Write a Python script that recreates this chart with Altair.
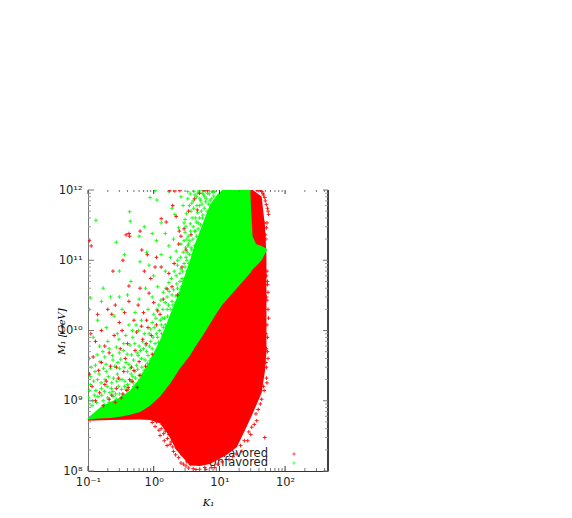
import altair as alt
import pandas as pd

# Axis ticks
x_major = [0.1, 1, 10, 100]
x_labels = ["10⁻¹", "10⁰", "10¹", "10²"]
y_major = [1e8, 1e9, 1e10, 1e11, 1e12]
y_labels = ["10⁸", "10⁹", "10¹⁰", "10¹¹", "10¹²"]
x_minor = [0.2, 0.3, 0.4, 0.5, 0.6, 0.7, 0.8, 0.9, 2, 3, 4, 5, 6, 7, 8, 9,
           20, 30, 40, 50, 60, 70, 80, 90, 200, 300, 400]
y_minor = [m * d for d in (1e8, 1e9, 1e10, 1e11) for m in (2, 3, 4, 5, 6, 7, 8, 9)]

# Solid envelope of the favored cloud
red_low_k = [0.1, 0.216, 0.62, 0.88, 1.25, 1.7, 2.2, 3, 3.57, 5.06, 7.2, 13, 18.5, 24.5, 32.4, 44, 49.5, 52]
red_low_m = [5.2e8, 5.3e8, 5.4e8, 5.3e8, 4.8e8, 3.2e8, 2e8, 1.44e8, 1.2e8, 1.18e8, 1.26e8, 1.7e8, 2.2e8,
             3.8e8, 6.7e8, 1.3e9, 2.7e9, 5e9]
red_top_m = [5.6e8, 6e8, 7.5e8, 9e8, 1.3e9, 2e9, 3e9, 4.5e9, 5.5e9, 1e10, 1.6e10, 1e12, 1e12,
             1e12, 1e12, 8e11, 3e11, 1.2e11]

# Solid envelope of the unfavored cloud
green_k = [0.1, 0.152, 0.216, 0.307, 0.436, 0.62, 0.88, 1.25, 1.77, 2.52, 3.57, 4.2, 5.5, 7.2, 9.2, 11,
           29.5, 30.5, 32, 36, 44, 53]
green_low = [5.4e8, 5.6e8, 5.7e8, 5.9e8, 6.3e8, 6.9e8, 8.5e8, 1.15e9, 1.75e9, 2.9e9, 4.4e9, 5.7e9,
             8.3e9, 1.25e10, 1.8e10, 2.3e10, 6.6e10, 6.9e10, 7.4e10, 8.2e10, 1e11, 1.4e11]
green_high = [5.7e8, 8e8, 9.6e8, 1.1e9, 1.4e9, 2.1e9, 3.8e9, 7.3e9, 1.66e10, 3.8e10, 1e11, 1.66e11,
              3.2e11, 6.2e11, 8.5e11, 1e12, 1e12, 5e11, 2.2e11, 1.7e11, 1.6e11, 1.45e11]

# Individually readable unfavored markers (K1, M1)
green_pts = [
    (0.132, 3.7e11), (0.43, 4.9e11), (0.44, 3.6e11), (1.12, 7.2e11), (0.88, 7.8e11), (1.05, 9.8e11), (1.3, 3.4e11),
    (1.7, 9.5e11), (1.9, 5.5e11), (2.1, 4.5e11), (2.6, 8e11), (2.8, 6e11), (3, 3.8e11), (3.3, 9.5e11), (2.4, 2.9e11),
    (0.36, 1.2e11), (0.27, 1.8e11), (0.3, 7e10), (0.6, 2.2e11), (0.72, 3e11), (0.95, 2.4e11), (0.78, 1.3e11),
    (1.1, 1.9e11), (1.5, 2.4e11), (1.7, 1.6e11), (2, 2e11), (0.62, 9.5e10), (0.85, 8.5e10), (1, 6e10), (1.3, 1.2e11),
    (1.5, 7e10), (1.8, 1.1e11), (2.2, 1.35e11), (0.45, 5e10), (0.17, 4e10), (0.16, 2.6e10), (0.22, 3e10), (0.3, 3e10),
    (0.4, 3.2e10), (0.6, 2.8e10), (0.75, 4e10), (0.95, 3e10), (1.15, 4.2e10), (1.4, 3.5e10), (1.7, 4.8e10),
    (0.11, 2.9e10), (0.105, 2e10), (0.14, 1.4e10), (0.19, 1.1e10), (0.25, 1.6e10), (0.33, 2e10), (0.42, 1.2e10),
    (0.52, 1.8e10), (0.65, 1.4e10), (0.82, 2e10), (1, 1.7e10), (1.2, 2.3e10), (0.28, 9e9), (0.12, 8e9), (0.15, 6e9),
    (0.2, 7e9), (0.35, 6.5e9), (0.48, 8e9), (0.6, 6e9), (0.72, 9e9), (0.9, 7e9), (0.105, 4e9), (0.13, 3.2e9),
    (0.18, 4.2e9), (0.24, 3.8e9), (0.3, 4.8e9), (0.38, 3.5e9), (0.46, 4.5e9), (0.55, 3.2e9), (0.65, 4e9), (0.78, 5e9),
    (0.11, 2.2e9), (0.14, 2e9), (0.19, 2.6e9), (0.23, 1.8e9), (0.28, 2.4e9), (0.33, 2e9), (0.4, 2.6e9), (0.48, 2.2e9),
    (0.105, 1.4e9), (0.125, 1.2e9), (0.16, 1.5e9), (0.2, 1.1e9), (0.24, 1.35e9), (0.29, 1.6e9), (0.1, 9e8),
    (0.115, 8.5e8), (0.135, 9.5e8), (0.17, 1e9), (1.5, 1.2e10), (2.2, 2.5e10), (2.8, 5e10), (3.2, 7e10), (3.8, 1.4e11),
    (4.5, 2.2e11), (5.5, 4e11), (6.5, 5e11), (7.5, 7.5e11), (8.5, 9.5e11), (4, 3e11), (4.3, 4e11), (5, 6e11),
    (5.5, 9e11), (6, 8e11), (3.7, 5e11), (4, 7e11), (4.5, 8e11), (5.5, 1e12), (2.5, 6.5e10), (2.9, 9e10), (3.4, 1.7e11),
    (1.9, 3.2e10), (2.3, 4e10), (2.7, 5.5e10), (3.1, 1.1e11), (1.3, 1.2e10), (1.6, 2e10), (1.9, 2.6e10), (2.2, 6e10),
    (1.1, 9e9), (1.35, 1.5e10), (1.6, 3e10), (0.95, 5.5e9), (1.15, 8e9), (1.4, 1.1e10), (0.8, 3e9), (1, 3.8e9),
    (1.2, 5e9), (0.6, 2.3e9), (0.8, 3.4e9), (0.95, 1.3e10), (0.55, 1.7e9), (0.68, 2.4e9), (0.85, 9e9), (0.5, 1.6e9),
    (0.62, 2e9), (0.38, 1.45e9), (0.45, 1.9e9), (0.3, 1.25e9), (0.36, 1.6e9), (0.24, 1.15e9), (0.3, 2.9e9),
    (3.6, 3.3e11), (4.2, 2.6e11), (4.8, 3.4e11), (5.2, 7e11), (6.2, 6.8e11), (7, 8.8e11), (8, 9.2e11), (3.2, 2e11),
    (3.5, 6e11), (4.1, 9.6e11), (4.7, 9e11), (3.9, 1.2e11), (3, 2.5e11), (3.3, 1.6e11), (2.6, 7.5e10), (2.9, 1.9e11),
    (2.3, 8.5e10), (2.6, 3.8e10),
    # dense band next to the solid region
    (0.52, 2.6e9), (0.58, 4.4e9), (0.63, 5.2e9), (0.68, 7e9), (0.74, 3.8e9), (0.76, 6.2e9), (0.82, 4.4e9), (0.86, 6e9),
    (0.9, 1.05e10), (0.93, 4e9), (0.98, 8e9), (1.02, 1.1e10), (1.05, 6.5e9), (1.08, 1.5e10), (1.12, 2e10), (1.18, 6.8e9),
    (1.22, 1e10), (1.26, 1.4e10), (1.28, 2.7e10), (1.32, 9e9), (1.38, 2e10), (1.42, 7.5e9), (1.46, 1.5e10), (1.5, 2.5e10),
    (1.54, 4e10), (1.58, 1.1e10), (1.62, 1.6e10), (1.68, 2.3e10), (1.72, 3.6e10), (1.78, 1.45e10), (1.82, 2e10),
    (1.86, 5.5e10), (1.92, 1.7e10), (1.96, 2.3e10), (2, 3.8e10), (2.05, 7e10), (2.12, 2.1e10), (2.18, 3.1e10),
    (2.25, 4.6e10), (2.32, 1e11), (2.38, 2.7e10), (2.45, 3.4e10), (2.5, 5e10), (2.55, 1.1e11), (2.6, 1.7e11),
    (2.68, 4.2e10), (2.75, 7e10), (2.82, 1.3e11), (2.9, 3.4e11), (2.95, 5.5e10), (3, 8e10), (3.05, 1.5e11),
    (3.1, 3e11), (3.15, 4.6e11), (3.2, 1e11), (3.25, 1.3e11), (3.3, 7.5e11), (3.35, 2.2e11), (3.42, 9e10), (3.5, 1.2e11),
    (3.55, 1.9e11), (3.6, 8.8e11), (3.65, 2.6e11), (3.72, 1.5e11), (3.8, 6.5e11), (3.85, 4e11), (3.95, 2e11),
    (4.05, 5.5e11), (4.15, 1.6e11), (4.25, 8.5e11), (4.35, 2.6e11), (4.45, 3.5e11), (4.55, 6e11), (4.65, 4.8e11),
    (4.75, 2.8e11), (4.85, 9.7e11), (4.95, 4e11), (5.05, 7.5e11), (5.15, 3.2e11), (5.3, 5e11), (5.45, 6.3e11),
    (5.6, 4.4e11), (5.75, 8.5e11), (5.9, 5.5e11), (6.1, 9.7e11), (6.3, 7.5e11), (6.6, 9e11), (6.8, 6.3e11), (7.2, 7e11),
    (7.7, 9.6e11), (8.2, 8.2e11), (0.34, 1.2e9), (0.41, 1.45e9), (0.44, 2.9e9), (0.49, 1.8e9), (0.53, 2.1e9), (0.57, 2.8e9),
    (0.66, 3e9), (0.7, 5.5e9), (0.72, 2.7e9), (0.88, 3.7e9), (0.4, 1.7e9), (0.27, 1.05e9), (0.21, 9.5e8), (0.18, 8.8e8),
    # lower-left scatter
    (0.102, 1.1e9), (0.108, 1.7e9), (0.112, 3e9), (0.118, 1e9), (0.122, 1.9e9), (0.128, 2.6e9), (0.132, 1.4e9),
    (0.138, 4.5e9), (0.142, 1.15e9), (0.148, 2.4e9), (0.152, 3.6e9), (0.158, 1.8e9), (0.162, 1.2e9), (0.168, 5e9),
    (0.172, 2.9e9), (0.178, 1.35e9), (0.182, 2e9), (0.188, 3.3e9), (0.195, 1.6e9), (0.205, 2.2e9), (0.21, 5.5e9),
    (0.215, 1.3e9), (0.22, 2.9e9), (0.228, 1.5e9), (0.235, 4.4e9), (0.245, 2.1e9), (0.255, 3.1e9), (0.262, 1.25e9),
    (0.27, 5.8e9), (0.275, 1.9e9), (0.285, 3.5e9), (0.295, 7.5e9), (0.305, 2e9), (0.315, 3.9e9), (0.325, 1.45e9),
    (0.345, 5.2e9), (0.355, 3e9), (0.365, 1.9e9), (0.375, 8.5e9), (0.395, 4.6e9), (0.42, 3.3e9), (0.435, 6.2e9),
    (0.455, 2.4e9), (0.475, 1e10), (0.495, 3.8e9), (0.515, 6.5e9), (0.54, 1.2e10), (0.56, 4.8e9), (0.59, 1e10),
]

# Individually readable favored markers, drawn above the unfavored cloud (K1, M1)
red_pts = [
    (0.105, 1.9e11), (0.112, 1.6e11), (0.38, 2.3e11), (0.42, 2.4e11), (0.43, 2.2e11), (0.62, 2.6e11), (0.66, 1.4e11),
    (0.8, 1.2e11), (1.1, 1.1e11), (0.72, 7e10), (0.9, 5.5e10), (1.05, 8e10), (0.62, 4e10), (0.24, 7e10), (0.34, 1e11),
    (0.42, 4.3e10), (1.3, 3.9e11), (1.55, 3.5e11), (1.3, 8e10), (1.95, 6e11), (2.2, 4.2e11), (2.45, 2.6e11),
    (2.1, 9.7e11), (1.75, 9.8e11), (2.5, 9.8e11), (0.26, 2.3e10), (0.23, 1.7e10), (0.14, 1.7e10), (0.2, 2e10),
    (0.16, 1e10), (0.3, 1.3e10), (0.36, 1.8e10), (0.42, 2.6e10), (0.5, 1.4e10), (0.58, 2.3e10), (0.7, 1.8e10),
    (0.85, 3.4e10), (1, 2.5e10), (1.15, 1.9e10), (1.4, 2.8e10), (0.11, 9e9), (0.13, 7e9), (0.18, 6e9), (0.25, 8.5e9),
    (0.33, 1e10), (0.4, 6.5e9), (0.55, 9.5e9), (0.68, 7.5e9), (0.82, 1.1e10), (1.1, 1.2e10), (0.12, 4.2e9),
    (0.16, 3.5e9), (0.21, 4.8e9), (0.27, 3e9), (0.31, 5.5e9), (0.37, 4e9), (0.46, 3e9), (0.52, 5.2e9), (0.6, 3.6e9),
    (0.77, 6.5e9), (0.95, 4.6e9), (0.105, 2.4e9), (0.145, 2.7e9), (0.19, 1.9e9), (0.22, 3.1e9), (0.29, 2.1e9),
    (0.35, 2.6e9), (0.43, 2e9), (0.5, 2.7e9), (0.62, 2.3e9), (0.75, 3.1e9), (0.115, 1.6e9), (0.15, 1.3e9), (0.18, 1.7e9),
    (0.23, 1.2e9), (0.27, 1.5e9), (0.32, 1.1e9), (0.39, 1.4e9), (0.47, 1.9e9), (0.56, 1.55e9), (0.13, 1e9),
    (0.17, 8.5e8), (0.21, 1.05e9), (0.26, 9.5e8), (0.34, 1.25e9), (0.41, 1.55e9), (1.7, 6.5e10), (1.9, 4.2e10),
    (2.3, 3.2e10), (2.7, 8e10), (3.1, 1.4e11), (2.4, 1.7e11), (2.9, 2.8e11), (3.4, 5e11), (4.2, 7.5e11), (5, 9e11),
    (5.8, 9.9e11), (6.6, 9.9e11), (0.78, 1.4e10), (1.25, 1.7e10), (1.6, 3.9e10), (2.05, 9e10), (2.6, 2.2e11), (3.7, 2.3e11),
    (4.6, 5.2e11), (0.92, 8.5e9), (0.65, 1.15e10),
]

# Fringe of the favored cloud, drawn beneath the unfavored cloud (K1, M1)
edge_pts = [
    (1.05, 4.3e8), (1.2, 3.8e8), (1.35, 4.6e8), (1.55, 4.2e8), (1.25, 3.2e8), (1.45, 2.7e8), (1.7, 3.3e8), (1.9, 3.9e8),
    (1.6, 2.3e8), (1.85, 2.6e8), (2.1, 2.9e8), (2.4, 3.5e8), (2, 1.9e8), (2.25, 2.1e8), (2.7, 1.7e8), (2.9, 2.3e8),
    (3.2, 1.35e8), (3.6, 1.25e8), (4.4, 1.05e8), (6.2, 1.05e8), (8.5, 1.12e8), (16, 1.6e8), (22, 1.9e8), (27, 2.7e8),
    (30, 3.3e8), (34, 4.6e8), (37, 5.2e8), (42, 9e8), (48, 1.4e9), (52, 2.1e9), (54, 5e9), (53, 1.2e10), (55, 2e10),
    (52, 3e10), (54, 5e10), (53, 7e10), (51, 9e9), (50, 2.3e11), (48, 3.4e11), (56, 4.5e11), (54, 5.5e11), (50, 7e11),
    (47, 8.5e11), (52, 3e9), (44, 9.5e11), (40, 9.8e11), (39, 9.9e11), (49, 3e8), (53, 1.8e9),
    (0.95, 4.9e8), (1.1, 5e8), (1.3, 4e8), (1.42, 3.4e8), (1.5, 3.7e8), (1.62, 2.9e8), (1.78, 2.4e8), (1.95, 2.2e8),
    (2.15, 1.7e8), (2.4, 1.55e8), (2.6, 1.3e8), (2.85, 1.25e8), (3.1, 1.18e8), (3.4, 1.1e8), (4, 1.08e8), (5, 1.06e8),
    (6, 1.12e8), (7.5, 1.12e8), (9.5, 1.25e8), (11, 1.35e8), (14, 1.45e8), (18, 1.75e8), (21, 2.3e8), (24, 2.7e8),
    (28, 3.6e8), (31, 4.2e8), (36, 6.5e8), (39, 7.5e8), (44, 1.05e9), (47, 1.6e9), (51, 3.5e9), (55, 4e9), (52, 5.5e9),
    (54, 8e9), (56, 1.5e10), (53, 2.7e10), (55, 3.5e10), (54, 4.5e10), (52, 6e10), (53, 3.4e11), (52, 2.9e11), (51, 2e11),
    (55, 5e11), (52, 6.2e11), (49, 7.8e11), (46, 9e11), (43, 1e12), (37, 1e12),
]

legend_names = ["Favored", "Unfavored"]
legend_colors = ["#ff0000", "#00ff00"]

K_DOMAIN = [0.1, 450]
M_DOMAIN = [1e8, 1e12]


def label_expr(values, labels):
    expr = f"'{labels[-1]}'"
    for v, lab in reversed(list(zip(values[:-1], labels[:-1]))):
        expr = f"datum.value <= {v * 1.5} ? '{lab}' : {expr}"
    return expr


xs = alt.Scale(type="log", domain=K_DOMAIN, nice=False)
ys = alt.Scale(type="log", domain=M_DOMAIN, nice=False)
plus = "M-1,0L1,0M0,-1L0,1"

x_axis = alt.Axis(values=x_major, labelExpr=label_expr(x_major, x_labels), ticks=False, grid=False,
                  domainColor="#333333", title="K₁", titleFont="DejaVu Serif", titleFontStyle="italic",
                  titleFontWeight="normal", titleFontSize=10, titleY=26, labelFont="DejaVu Sans",
                  labelFontSize=11.5, labelColor="#222222", labelPadding=5, labelOverlap=False, labelFlush=False)
y_axis = alt.Axis(values=y_major, labelExpr=label_expr(y_major, y_labels), ticks=False, grid=False,
                  domainColor="#777777", title="M₁ [GeV]", titleFont="DejaVu Serif", titleFontStyle="italic",
                  titleFontWeight="normal", titleFontSize=10, titleX=-22, titleY=141, labelFont="DejaVu Sans",
                  labelFontSize=11.5, labelColor="#222222", labelPadding=6, labelOverlap=False, labelFlush=False)

red_df = pd.DataFrame({"k": red_low_k, "low": red_low_m, "top": red_top_m})
green_df = pd.DataFrame({"k": green_k, "low": green_low, "high": green_high})


def pts(pairs, color):
    df = pd.DataFrame(pairs, columns=["k", "m"])
    return alt.Chart(df).mark_point(
        shape=plus, size=14, filled=False, color=color, strokeWidth=1, opacity=0.9, clip=True
    ).encode(x=alt.X("k:Q", scale=xs), y=alt.Y("m:Q", scale=ys))


legend_df = pd.DataFrame({"name": legend_names, "color": legend_colors, "row": [264, 273]})
legend_text = alt.Chart(legend_df).mark_text(align="right", baseline="middle", font="DejaVu Sans", fontSize=11.5,
                                             color="#222222").encode(
    x=alt.value(180), y=alt.Y("row:Q", scale=None), text="name:N")
legend_mark = alt.Chart(legend_df).mark_point(shape=plus, size=11, filled=False, strokeWidth=1).encode(
    x=alt.value(206), y=alt.Y("row:Q", scale=None), color=alt.Color("color:N", scale=None))

red_area = alt.Chart(red_df).mark_area(color="#ff0000", clip=True, opacity=1).encode(
    x=alt.X("k:Q", scale=xs, axis=x_axis), y=alt.Y("low:Q", scale=ys, axis=y_axis), y2="top:Q")
green_area = alt.Chart(green_df).mark_area(color="#00ff00", clip=True, opacity=1).encode(
    x=alt.X("k:Q", scale=xs), y=alt.Y("low:Q", scale=ys), y2="high:Q")


def rules(values, horizontal, start, end, color):
    df = pd.DataFrame({"v": values})
    if horizontal:
        enc = dict(y=alt.Y("v:Q", scale=ys), x=alt.value(start), x2=alt.value(end))
    else:
        enc = dict(x=alt.X("v:Q", scale=xs), y=alt.value(start), y2=alt.value(end))
    return alt.Chart(df).mark_rule(color=color, strokeWidth=1).encode(**enc)


tick_layers = [
    rules(x_minor, False, 0, 2, "#777777"), rules(x_major, False, 0, 4, "#333333"),
    rules(x_minor, False, 281, 278, "#777777"), rules(x_major, False, 281, 276, "#333333"),
    rules(y_minor, True, 0, 3, "#999999"), rules(y_major, True, 0, 6, "#777777"),
    rules(y_minor, True, 240, 237, "#999999"), rules(y_major, True, 240, 235, "#777777"),
]
right_border = alt.Chart(pd.DataFrame({"v": M_DOMAIN})).mark_rule(color="#000000", strokeWidth=1).encode(
    x=alt.value(240), y=alt.value(0), y2=alt.value(281))

chart = alt.layer(
    legend_text, red_area, pts(edge_pts, "#ff0000"), green_area,
    pts(green_pts, "#00ff00"), pts(red_pts, "#ff0000"),
    legend_mark, right_border, *tick_layers,
).properties(
    width=240, height=281,
    autosize=alt.AutoSizeParams(type="none"),
    padding={"left": 80, "top": 182, "right": 4, "bottom": 37},
).configure_view(stroke=None)

chart.save("out.html", embed_options={"renderer": "svg", "actions": False})
